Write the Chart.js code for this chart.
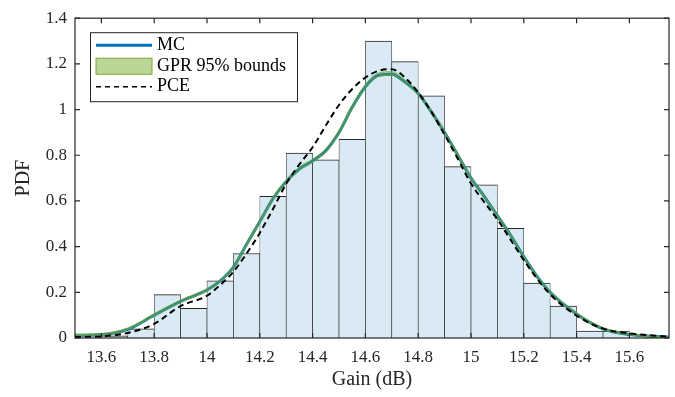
<!DOCTYPE html>
<html>
<head>
<meta charset="utf-8">
<script src="https://cdn.jsdelivr.net/npm/chart.js@4.4.1/dist/chart.umd.min.js"></script>
<style>
  body { margin: 0; background: #fff; }
  .chart-container { width: 675px; height: 397px; }
</style>
</head>
<body>
<div class="chart-container"><canvas id="chart"></canvas></div>
<script>
// histogram of MC samples (bin width 0.1 dB)
const binCenters = [13.55, 13.65, 13.75, 13.85, 13.95, 14.05, 14.15, 14.25, 14.35, 14.45, 14.55,
  14.65, 14.75, 14.85, 14.95, 15.05, 15.15, 15.25, 15.35, 15.45, 15.55, 15.65];
const binPdf = [0.005, 0.01, 0.04, 0.19, 0.13, 0.25, 0.37, 0.62, 0.81, 0.78, 0.87,
  1.30, 1.21, 1.06, 0.75, 0.67, 0.48, 0.24, 0.14, 0.03, 0.03, 0];

// density curves
const curveX = [13.5, 13.6, 13.7, 13.8, 13.9, 14.0, 14.05, 14.1, 14.15, 14.2, 14.25, 14.3,
  14.35, 14.4, 14.45, 14.5, 14.55, 14.6, 14.65, 14.7, 14.75, 14.8, 14.85, 14.9, 14.95, 15.0,
  15.05, 15.1, 15.15, 15.2, 15.25, 15.3, 15.4, 15.5, 15.6, 15.75];
const mcPdf = [0.012, 0.015, 0.038, 0.10, 0.16, 0.21, 0.25, 0.31, 0.41, 0.51, 0.61, 0.685,
  0.74, 0.775, 0.82, 0.90, 1.01, 1.10, 1.15, 1.155, 1.12, 1.07, 0.99, 0.90, 0.80, 0.70,
  0.62, 0.535, 0.45, 0.355, 0.27, 0.20, 0.105, 0.04, 0.015, 0.003];
const gprUpper = [0.015, 0.019, 0.044, 0.106, 0.166, 0.216, 0.256, 0.316, 0.416, 0.516, 0.617, 0.692,
  0.748, 0.783, 0.829, 0.91, 1.02, 1.11, 1.16, 1.166, 1.13, 1.078, 0.997, 0.905, 0.805, 0.705,
  0.624, 0.539, 0.454, 0.358, 0.274, 0.204, 0.11, 0.046, 0.019, 0.004];
const gprLower = [0.009, 0.012, 0.036, 0.097, 0.156, 0.206, 0.246, 0.305, 0.404, 0.504, 0.604, 0.679,
  0.735, 0.77, 0.815, 0.894, 1.003, 1.094, 1.145, 1.15, 1.115, 1.063, 0.984, 0.894, 0.795, 0.695,
  0.615, 0.53, 0.446, 0.351, 0.266, 0.197, 0.102, 0.038, 0.013, 0.002];
const pcePdf = [0.004, 0.007, 0.022, 0.062, 0.14, 0.185, 0.232, 0.29, 0.37, 0.46, 0.565, 0.675,
  0.76, 0.835, 0.93, 1.02, 1.09, 1.14, 1.17, 1.177, 1.14, 1.075, 0.99, 0.89, 0.785, 0.676,
  0.595, 0.519, 0.43, 0.341, 0.26, 0.191, 0.098, 0.041, 0.02, 0.006];

const xTicks = [13.6, 13.8, 14, 14.2, 14.4, 14.6, 14.8, 15, 15.2, 15.4, 15.6];
const yTicks = [0, 0.2, 0.4, 0.6, 0.8, 1, 1.2, 1.4];
const legendLabels = ["MC", "GPR 95% bounds", "PCE"];

const BLUE = "rgb(0,114,189)";
const GREEN = "rgb(119,172,48)";
const AXIS = "#262626";
const SERIF = "'Liberation Serif', 'Times New Roman', serif";

const pts = (ys) => curveX.map((x, i) => ({ x: x, y: ys[i] }));

// matlab-like box with inward ticks
const axesBox = {
  id: "axesBox",
  afterDatasetsDraw(chart) {
    const { ctx, chartArea: a, scales } = chart;
    ctx.save();
    ctx.strokeStyle = AXIS;
    ctx.lineWidth = 1.2;
    ctx.strokeRect(a.left, a.top, a.right - a.left, a.bottom - a.top);
    ctx.beginPath();
    scales.x.ticks.forEach((t) => {
      const px = scales.x.getPixelForValue(t.value);
      ctx.moveTo(px, a.bottom); ctx.lineTo(px, a.bottom - 5);
      ctx.moveTo(px, a.top); ctx.lineTo(px, a.top + 5);
    });
    scales.y.ticks.forEach((t) => {
      const py = scales.y.getPixelForValue(t.value);
      ctx.moveTo(a.left, py); ctx.lineTo(a.left + 5, py);
      ctx.moveTo(a.right, py); ctx.lineTo(a.right - 5, py);
    });
    ctx.stroke();
    ctx.restore();
  },
  afterDraw(chart) {
    const { ctx, chartArea: a } = chart;
    const bx = a.left + 15, by = a.top + 14, bw = 207, bh = 69;
    ctx.save();
    ctx.fillStyle = "#fff";
    ctx.fillRect(bx, by, bw, bh);
    ctx.strokeStyle = AXIS;
    ctx.lineWidth = 1;
    ctx.strokeRect(bx + 0.5, by + 0.5, bw, bh);

    const x0 = bx + 6, x1 = bx + 62;
    const rows = [by + 13, by + 34, by + 54.5];
    // MC
    ctx.strokeStyle = BLUE; ctx.lineWidth = 3;
    ctx.beginPath(); ctx.moveTo(x0, rows[0]); ctx.lineTo(x1, rows[0]); ctx.stroke();
    // GPR patch
    ctx.fillStyle = "rgba(119,172,48,0.5)";
    ctx.fillRect(x0, rows[1] - 8, x1 - x0, 16);
    ctx.strokeStyle = GREEN; ctx.lineWidth = 1;
    ctx.strokeRect(x0, rows[1] - 8, x1 - x0, 16);
    // PCE
    ctx.strokeStyle = "#000"; ctx.lineWidth = 1.5;
    ctx.setLineDash([5, 4]);
    ctx.beginPath(); ctx.moveTo(x0, rows[2]); ctx.lineTo(x1, rows[2]); ctx.stroke();
    ctx.setLineDash([]);

    ctx.fillStyle = "#000";
    ctx.font = "18px " + SERIF;
    ctx.textBaseline = "middle";
    ctx.textAlign = "left";
    legendLabels.forEach((t, i) => ctx.fillText(t, x1 + 5, rows[i]));
    ctx.restore();
  },
};

const ctx = document.getElementById("chart").getContext("2d");
new Chart(ctx, {
  type: "bar",
  data: {
    datasets: [
      {
        type: "line",
        label: "PCE",
        data: pts(pcePdf),
        borderColor: "#000",
        borderWidth: 2,
        borderDash: [6, 4],
        pointRadius: 0,
        cubicInterpolationMode: "monotone",
        fill: false,
        order: 0,
      },
      {
        type: "line",
        label: "GPR 95% bounds",
        data: pts(gprUpper),
        borderColor: GREEN,
        borderWidth: 0.8,
        backgroundColor: "rgba(119,172,48,0.4)",
        pointRadius: 0,
        cubicInterpolationMode: "monotone",
        fill: "+1",
        order: 1,
      },
      {
        type: "line",
        label: "GPR lower",
        data: pts(gprLower),
        borderColor: GREEN,
        borderWidth: 0.8,
        pointRadius: 0,
        cubicInterpolationMode: "monotone",
        fill: false,
        order: 2,
      },
      {
        type: "line",
        label: "MC",
        data: pts(mcPdf),
        borderColor: BLUE,
        borderWidth: 3,
        pointRadius: 0,
        cubicInterpolationMode: "monotone",
        fill: false,
        order: 3,
      },
      {
        type: "bar",
        label: "Histogram",
        data: binCenters.map((x, i) => ({ x: x, y: binPdf[i] })),
        backgroundColor: "rgb(217,234,245)",
        borderColor: "rgba(15,15,15,0.9)",
        borderWidth: { top: 1, left: 0.65, right: 0.65, bottom: 0 },
        borderSkipped: "bottom",
        barPercentage: 1,
        categoryPercentage: 1,
        order: 4,
      },
    ],
  },
  options: {
    responsive: true,
    maintainAspectRatio: false,
    animation: false,
    layout: { padding: { top: 11, right: 6, left: 0, bottom: 0 } },
    plugins: {
      legend: { display: false },
      tooltip: { enabled: false },
    },
    scales: {
      x: {
        type: "linear",
        min: 13.5,
        max: 15.75,
        offset: false,
        grid: { display: false, offset: false, drawTicks: false },
        border: { display: false },
        afterBuildTicks: (s) => { s.ticks = xTicks.map((v) => ({ value: v })); },
        afterFit: (s) => { s.height = 59; },
        ticks: {
          autoSkip: false,
          maxRotation: 0,
          padding: 9,
          color: AXIS,
          font: { family: SERIF, size: 17 },
          callback: (v) => String(v),
        },
        title: {
          display: true,
          text: "Gain (dB)",
          color: AXIS,
          font: { family: SERIF, size: 20 },
          padding: { top: 0, bottom: 5 },
        },
      },
      y: {
        min: 0,
        max: 1.4,
        grid: { display: false, drawTicks: false },
        border: { display: false },
        afterBuildTicks: (s) => { s.ticks = yTicks.map((v) => ({ value: v })); },
        afterFit: (s) => { s.width = 75; },
        ticks: {
          padding: 8,
          color: AXIS,
          font: { family: SERIF, size: 17 },
          callback: (v) => String(v),
        },
        title: {
          display: true,
          text: "PDF",
          color: AXIS,
          font: { family: SERIF, size: 20 },
          padding: { top: 12, bottom: 0 },
        },
      },
    },
  },
  plugins: [axesBox],
});
</script>
</body>
</html>
